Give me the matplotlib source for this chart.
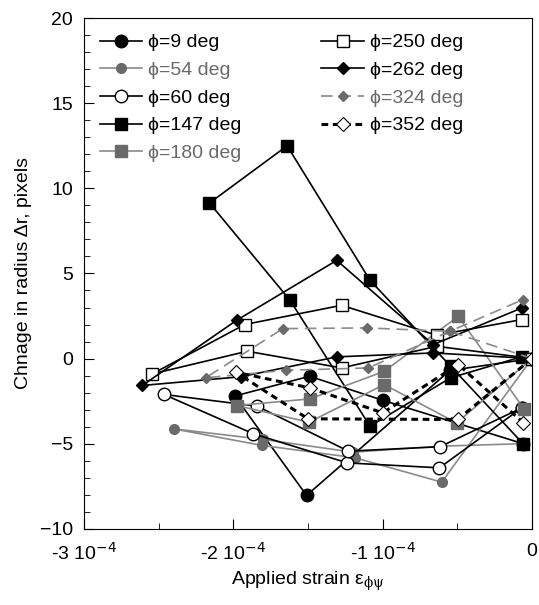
import numpy as np
import matplotlib
matplotlib.use("Agg")
import matplotlib.pyplot as plt
from matplotlib.ticker import MultipleLocator, FixedLocator, FixedFormatter

plt.rcParams["font.family"] = ["Liberation Sans", "DejaVu Sans"]
plt.rcParams["mathtext.fontset"] = "dejavuserif"

# strain in units of 1e-4, radius change in pixels
x9 = [-0.0, -0.55, -1.51, -1.99, -1.49, -1.0, -0.06]
y9 = [0.0, -0.7, -8.04, -2.2, -1.04, -2.45, -5.0]

x54 = [0.0, -0.605, -1.185, -1.81, -2.40, -1.80, -1.2, -0.62, -0.06]
y54 = [0.0, -7.26, -5.83, -5.1, -4.13, -4.75, -5.5, -5.15, -5.0]

x60 = [-0.069, -0.62, -1.237, -1.866, -2.465, -1.84, -1.23, -0.616, -0.069]
y60 = [-2.9, -6.42, -6.13, -4.42, -2.11, -2.8, -5.44, -5.18, -2.9]

x147 = [-0.07, -0.545, -1.085, -1.62, -2.16, -1.64, -1.085, -0.545, -0.06]
y147 = [0.1, -1.13, -3.97, 3.42, 9.14, 12.5, 4.6, -0.45, -5.0]

x180 = [0.0, -0.505, -0.99, -1.494, -1.978, -1.487, -0.99, -0.494, -0.054]
y180 = [0.0, -3.78, -1.53, -3.74, -2.76, -2.37, -0.75, 2.48, -2.95]

x250 = [-0.069, -0.638, -1.275, -1.924, -2.543, -1.907, -1.275, -0.638, 0.0]
y250 = [2.29, 1.37, 3.13, 2.0, -0.9, 0.43, -0.55, 0.72, 0.0]

x262 = [-0.069, -0.661, -1.308, -1.978, -2.61, -1.951, -1.308, -0.661, 0.0]
y262 = [2.97, 0.82, 5.77, 2.25, -1.58, -1.07, 0.1, 0.33, 0.0]

x324 = [0.0, -0.55, -1.107, -1.668, -2.186, -1.65, -1.096, -0.55, -0.062]
y324 = [0.0, 1.6, 1.8, 1.76, -1.13, -0.69, -0.55, 1.6, 3.46]

x352 = [0.0, -0.498, -1.5, -1.985, -1.49, -1.0, -0.494, -0.058]
y352 = [0.0, -3.58, -3.54, -0.8, -1.72, -3.19, -0.35, -3.77]

gray = "#6a6a6a"
lgray = "#8a8a8a"

fig = plt.figure(figsize=(5.39, 6.05), dpi=100)
ax = fig.add_axes([0.156, 0.126, 0.831, 0.844])

def sc(v):
    return np.array(v) * 1e-4

ax.plot(sc(x9), y9, "-o", color="black", lw=1.2, ms=9, mfc="black", mec="black",
        label="ϕ=9 deg")
ax.plot(sc(x54), y54, "-o", color=lgray, lw=1.2, ms=7, mfc=gray, mec=gray,
        label="ϕ=54 deg")
ax.plot(sc(x60), y60, "-o", color="black", lw=1.2, ms=9, mfc="white", mec="black",
        label="ϕ=60 deg")
ax.plot(sc(x147), y147, "-s", color="black", lw=1.2, ms=8, mfc="black", mec="black",
        label="ϕ=147 deg")
ax.plot(sc(x180), y180, "-s", color=lgray, lw=1.2, ms=8, mfc=gray, mec=gray,
        label="ϕ=180 deg")
ax.plot(sc(x250), y250, "-s", color="black", lw=1.2, ms=8, mfc="white", mec="black",
        label="ϕ=250 deg")
ax.plot(sc(x262), y262, "-D", color="black", lw=1.2, ms=6.5, mfc="black", mec="black",
        label="ϕ=262 deg")
ax.plot(sc(x324), y324, "--D", color=lgray, lw=1.2, ms=5.5, mfc=gray, mec=gray,
        dashes=(7, 4), label="ϕ=324 deg")
ax.plot(sc(x352), y352, "--D", color="black", lw=2.2, ms=7, mfc="white", mec="black",
        mew=0.8, dashes=(2.2, 1.5), label="ϕ=352 deg")

ax.set_xlim(-3e-4, 0)
ax.set_ylim(-10, 20)
ax.xaxis.set_major_locator(FixedLocator([-3e-4, -2e-4, -1e-4, 0]))
ax.xaxis.set_major_formatter(FixedFormatter([r"-3 10$^{\mathsf{-4}}$", r"-2 10$^{\mathsf{-4}}$",
                                             r"-1 10$^{\mathsf{-4}}$", "0"]))
ax.xaxis.set_minor_locator(MultipleLocator(0.5e-4))
ax.yaxis.set_major_locator(MultipleLocator(5))
ax.yaxis.set_minor_locator(MultipleLocator(1))
ax.tick_params(which="both", direction="in", labelsize=14)
ax.tick_params(axis="x", pad=10)
ax.tick_params(axis="y", pad=8)
ax.tick_params(which="major", length=7)
ax.tick_params(which="minor", length=4)

ax.set_xlabel(r"Applied strain ε$_{\mathrm{ϕψ}}$", fontsize=14, labelpad=4)
ax.set_ylabel("Chnage in radius Δr, pixels", fontsize=14, labelpad=6)

leg = ax.legend(loc="upper left", ncol=2, frameon=False, fontsize=14,
                handlelength=2.2, handletextpad=0.3, columnspacing=4.1,
                labelspacing=0.52, borderaxespad=0.4)
for t, c in zip(leg.get_texts(), ["black", gray, "black", "black", gray,
                                  "black", "black", gray, "black"]):
    t.set_color(c)

fig.savefig("out.png", dpi=100)
